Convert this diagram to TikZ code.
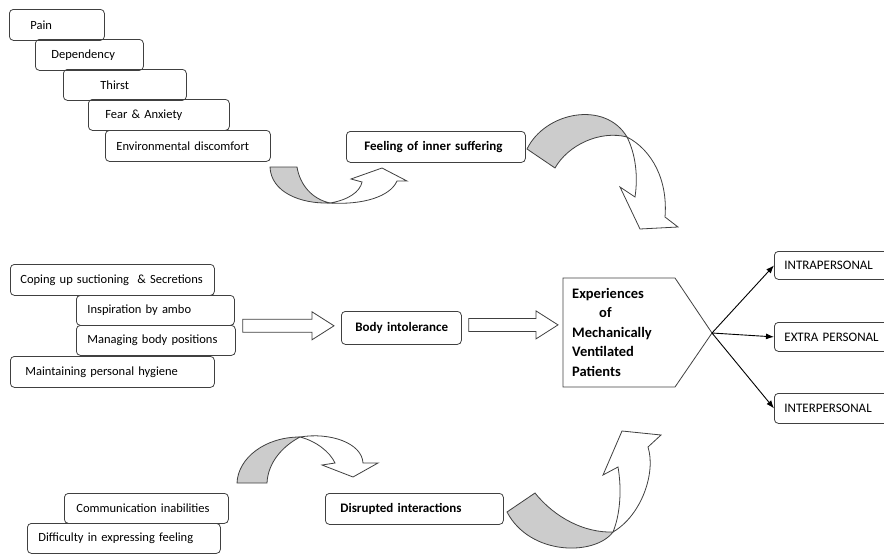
\documentclass[tikz,border=0pt]{standalone}
\usepackage{fontspec}
\setmainfont{Carlito}
\usetikzlibrary{calc,arrows.meta}

\tikzset{
  item/.style={draw=black!75, line width=0.8pt, rounded corners=4pt, anchor=north west,
    inner xsep=0pt, inner ysep=0pt, align=left, font=\fontsize{12.5pt}{15pt}\selectfont},
  side/.style={item, font=\fontsize{13pt}{15pt}\selectfont},
  key/.style={item, font=\fontsize{13pt}{15pt}\selectfont\bfseries},
  hollow/.style={draw=black!75, line width=0.8pt, fill=white, line join=miter},
  backband/.style={draw=black!75, line width=0.8pt, fill=black!20},
  frontband/.style={draw=black!75, line width=0.8pt, fill=white},
  link/.style={line width=0.9pt, -{Latex[length=8pt,width=6pt]}}
}

\newcommand{\hollowarrow}[2]{%
  \draw[hollow] let \p1=(#1), \p2=(#2) in
    (\x1,\y1+6.5pt) -- (\x2-22pt,\y1+6.5pt) -- (\x2-22pt,\y1+14pt) -- (\x2,\y1)
    -- (\x2-22pt,\y1-14pt) -- (\x2-22pt,\y1-6.5pt) -- (\x1,\y1-6.5pt) -- cycle;}

\begin{document}
\begin{tikzpicture}[x=1pt,y=-1pt]
\clip (0,0) rectangle (884,554);

\foreach \n/\x/\y/\w/\h/\i/\t in {pain/9/9/95/31/21/Pain,
    dep/35/39/108/31/16/Dependency,
    thirst/63/69/123/31/37/Thirst,
    fear/88/99/141/31/17/{Fear \& Anxiety},
    env/105/130/165/31/11/{Environmental discomfort},
    coping/10/264/204/31/10/{Coping up suctioning \ \& Secretions},
    insp/76/295/158/30/11/{Inspiration by ambo},
    manag/76/325/159/30/11/{Managing body positions},
    maint/10/356/204/31/15/{Maintaining personal hygiene},
    comm/64/493/164/30/12/{Communication inabilities},
    diff/27/523/193/30/11/{Difficulty in expressing feeling}}{
  \node[item, text width=\w pt, minimum height=\h pt] (\n) at (\x,\y) {\hspace*{\i pt}\t};
}
\foreach \n/\y/\h/\t in {intra/251/28/INTRAPERSONAL, extra/322/29/{EXTRA PERSONAL}, inter/393/30/INTERPERSONAL}{
  \node[side, text width=116pt, minimum height=\h pt] (\n) at (774,\y) {\hspace*{10pt}\t};
}

\node[key, text width=179pt, minimum height=31pt] (feel) at (346,131) {\hspace*{18pt}Feeling of inner suffering};
\node[key, text width=120pt, minimum height=33pt] (body) at (341,311) {\hspace*{14pt}Body intolerance};
\node[key, text width=178pt, minimum height=31pt] (disr) at (325,493) {\hspace*{15pt}Disrupted interactions};

\draw[line width=0.8pt, draw=black!75] (563,278) -- (675,278) -- (712,333) -- (675,387) -- (563,387) -- cycle;
\coordinate (tip) at (712,333);
\node[anchor=west, inner sep=0pt, align=left, font=\fontsize{14.5pt}{19.5pt}\selectfont\bfseries] (exp) at (572,332)
  {Experiences\\\hspace*{27pt}of\\Mechanically\\Ventilated\\Patients};

\hollowarrow{$(insp.south east)+(8,0)$}{$(body.west)+(-7,0)$}
\hollowarrow{$(body.east)+(7,-3)$}{$(exp.west)+(-14,0)$}

\draw[link] (tip) -- (intra.west);
\draw[link] (tip) -- (extra.west);
\draw[link] (tip) -- (inter.west);

\draw[backband] (270,167) -- (297,167) .. controls (300,185) and (312,199) .. (330,203)
  .. controls (300,204) and (271,192) .. (270,167) -- cycle;
\draw[frontband] (330,203) .. controls (348,200) and (360,192) .. (362,182) -- (351,179) -- (382,168)
  -- (407,181) -- (397,181) .. controls (390,197) and (362,205) .. (330,203) -- cycle;

\draw[backband] (527,149) .. controls (545,112) and (605,100) .. (627,137)
  .. controls (600,130) and (568,145) .. (555,168) -- cycle;
\draw[frontband] (627,137) .. controls (652,150) and (668,180) .. (665,217) -- (678,227) -- (640,229)
  -- (620,187) -- (635,197) .. controls (638,177) and (636,155) .. (627,137) -- cycle;

\draw[backband] (237,483) .. controls (238,458) and (265,437) .. (300,437)
  .. controls (283,446) and (268,462) .. (267,483) -- cycle;
\draw[frontband] (300,437) .. controls (330,432) and (362,443) .. (363,463) -- (378,463) -- (353,477)
  -- (322,465) -- (335,463) .. controls (330,452) and (316,441) .. (300,437) -- cycle;

\draw[backband] (507,512) -- (535,493) .. controls (555,518) and (585,533) .. (613,532)
  .. controls (595,556) and (530,556) .. (507,512) -- cycle;
\draw[frontband] (613,532) .. controls (642,515) and (656,472) .. (648,447) -- (661,435) -- (622,431)
  -- (603,475) -- (618,467) .. controls (622,490) and (620,515) .. (613,532) -- cycle;
\end{tikzpicture}
\end{document}
